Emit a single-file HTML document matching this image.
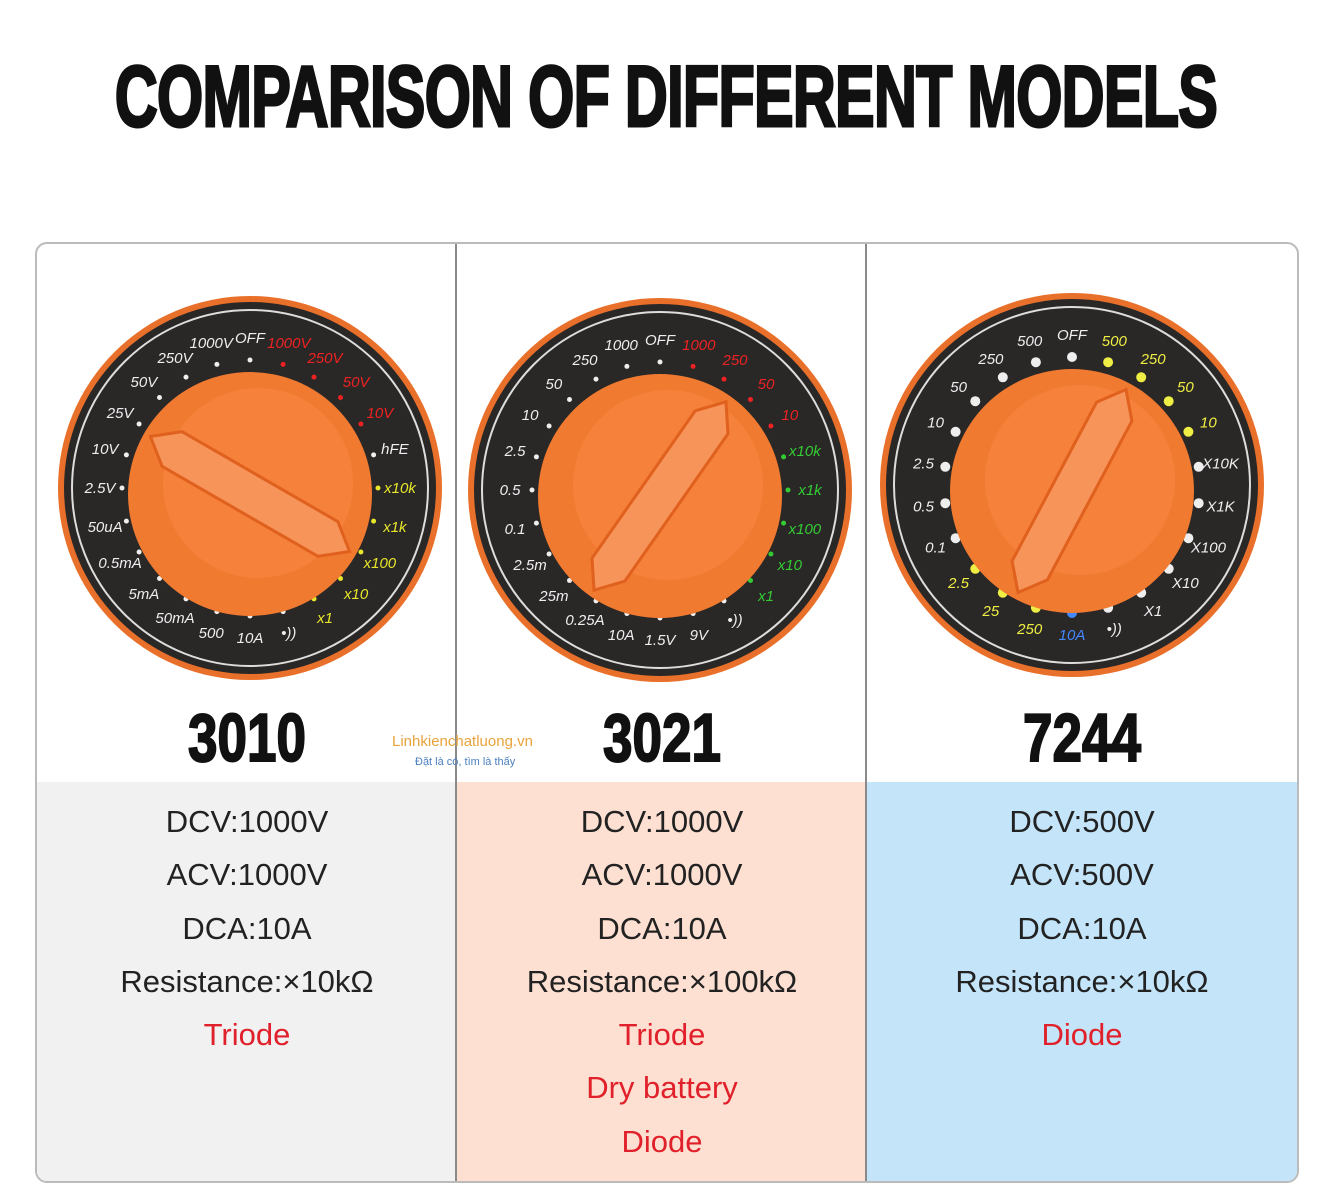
<!DOCTYPE html>
<html><head><meta charset="utf-8"><style>
html,body{margin:0;padding:0;background:#fff;}
body{width:1332px;height:1200px;position:relative;overflow:hidden;font-family:"Liberation Sans",sans-serif;}
.title{position:absolute;left:666px;top:52px;text-align:center;font-weight:bold;font-size:86px;letter-spacing:-1px;color:#111;transform:translateX(-50%) scaleX(0.69);line-height:90px;white-space:nowrap;-webkit-text-stroke:3px #111;}
.box{position:absolute;left:35px;top:242px;width:1260px;height:937px;border:2px solid #bbb;border-radius:12px;overflow:hidden;}
.col{position:absolute;top:0;height:937px;}
.bot{position:absolute;left:0;top:538px;right:0;bottom:0;}
.div{position:absolute;top:0;width:2px;height:937px;background:#8a8a8a;}
.model{position:absolute;top:455px;width:100%;text-align:center;font-weight:bold;font-size:68px;color:#111;transform:scaleX(0.78);-webkit-text-stroke:2px #111;}
.lines{position:absolute;top:555px;width:100%;text-align:center;font-size:31px;color:#222;}
.lines div{height:53.3px;line-height:46px;}
.r{color:#e0202a;}
svg{position:absolute;}
</style></head><body>
<div class="title">COMPARISON OF DIFFERENT MODELS</div>
<div class="box">
 <div class="col" style="left:0;width:420px"><div class="bot" style="background:#f1f1f1"></div>
  <div class="model">3010</div>
  <div class="lines"><div>DCV:1000V</div><div>ACV:1000V</div><div>DCA:10A</div><div>Resistance:×10kΩ</div><div class="r">Triode</div></div></div>
 <div class="col" style="left:420px;width:410px"><div class="bot" style="background:#fde0d2"></div>
  <div class="model">3021</div>
  <div class="lines"><div>DCV:1000V</div><div>ACV:1000V</div><div>DCA:10A</div><div>Resistance:×100kΩ</div><div class="r">Triode</div><div class="r">Dry battery</div><div class="r">Diode</div></div></div>
 <div class="col" style="left:830px;width:430px"><div class="bot" style="background:#c4e5f9"></div>
  <div class="model">7244</div>
  <div class="lines"><div>DCV:500V</div><div>ACV:500V</div><div>DCA:10A</div><div>Resistance:×10kΩ</div><div class="r">Diode</div></div></div>
 <div class="div" style="left:418px"></div>
 <div class="div" style="left:828px"></div>
</div>
<svg id="s" width="1332" height="1200" style="left:0;top:0"></svg>
<div style="position:absolute;left:392px;top:733px;font-size:15px;color:#e8a33a;">Linhkienchatluong.vn</div>
<div style="position:absolute;left:415px;top:756px;font-size:11px;color:#4a7fc0;">Đặt là có, tìm là thấy</div>
<script>
var s=document.getElementById('s'),h='';
var dials=[
 {cx:250,cy:488,labels:['OFF','1000V','250V','50V','25V','10V','2.5V','50uA','0.5mA','5mA','50mA','500','10A','•))','x1','x10','x100','x1k','x10k','hFE','10V','50V','250V','1000V'],cols:{14:'#e6e62a',15:'#e6e62a',16:'#e6e62a',17:'#e6e62a',18:'#e6e62a',20:'#e22',21:'#e22',22:'#e22',23:'#e22'}},
 {cx:660,cy:490,labels:['OFF','1000','250','50','10','2.5','0.5','0.1','2.5m','25m','0.25A','10A','1.5V','9V','•))','x1','x10','x100','x1k','x10k','10','50','250','1000'],cols:{15:'#3c3',16:'#3c3',17:'#3c3',18:'#3c3',19:'#3c3',20:'#e22',21:'#e22',22:'#e22',23:'#e22'}},
 {cx:1072,cy:485,labels:['OFF','500','250','50','10','2.5','0.5','0.1','2.5','25','250','10A','•))','X1','X10','X100','X1K','X10K','10','50','250','500'],cols:{8:'#ee4',9:'#ee4',10:'#ee4',11:'#48f',18:'#ee4',19:'#ee4',20:'#ee4',21:'#ee4'}}
];
dials.forEach(function(d,k){
 h+='<circle cx="'+d.cx+'" cy="'+d.cy+'" r="192" fill="#e8702a"/>';
 h+='<circle cx="'+d.cx+'" cy="'+d.cy+'" r="186" fill="#2a2727"/>';
 h+='<circle cx="'+d.cx+'" cy="'+d.cy+'" r="178" fill="none" stroke="#ddd" stroke-width="2"/>';
 var n=d.labels.length;
 d.labels.forEach(function(t,i){
  var a=(-90-i*360/n)*Math.PI/180;
  var x=d.cx+150*Math.cos(a),y=d.cy+150*Math.sin(a)+5;
  var c=d.cols[i]||'#eee';
  h+='<text x="'+x.toFixed(1)+'" y="'+y.toFixed(1)+'" fill="'+c+'" font-size="15" font-style="italic" text-anchor="middle" font-family="Liberation Sans">'+t+'</text>';
  var x2=d.cx+128*Math.cos(a),y2=d.cy+128*Math.sin(a);
  if(k==2){h+='<circle cx="'+x2.toFixed(1)+'" cy="'+y2.toFixed(1)+'" r="5" fill="'+c+'"/>';}
  else h+='<circle cx="'+x2.toFixed(1)+'" cy="'+y2.toFixed(1)+'" r="2.5" fill="'+c+'"/>';
 });
 h+='<circle cx="'+d.cx+'" cy="'+(d.cy+6)+'" r="122" fill="#f07a30"/>';
 h+='<circle cx="'+(d.cx+8)+'" cy="'+(d.cy-5)+'" r="95" fill="#f5813a"/>';
 var rot=k==0?30:(k==1?-55:-62);
 h+='<g transform="rotate('+rot+' '+d.cx+' '+(d.cy+6)+')"><path d="M'+(d.cx-115)+' '+(d.cy+6)+' L'+(d.cx-90)+' '+(d.cy-14)+' L'+(d.cx+90)+' '+(d.cy-14)+' L'+(d.cx+115)+' '+(d.cy+6)+' L'+(d.cx+90)+' '+(d.cy+26)+' L'+(d.cx-90)+' '+(d.cy+26)+'Z" fill="#f7945a" stroke="#e0601e" stroke-width="3"/></g>';
});
s.innerHTML=h;
</script>
</body></html>
